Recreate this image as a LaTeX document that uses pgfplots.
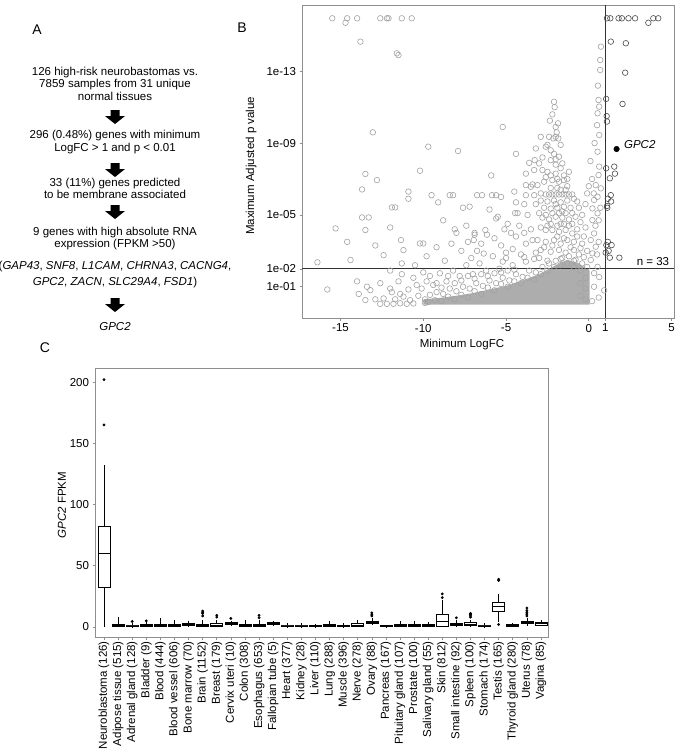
\documentclass[border=0pt]{standalone}
\usepackage{fontspec}
\setmainfont{Liberation Sans}
\setsansfont{Liberation Sans}
\usepackage{pgfplots}
\pgfplotsset{compat=1.18}
\usepgfplotslibrary{statistics}
\definecolor{ptgray}{HTML}{A2A2A2}
\definecolor{ptcore}{HTML}{ADADAD}
\definecolor{ptdark}{HTML}{4A4A4A}
\definecolor{ptframe}{HTML}{8E8E8E}
\newcommand{\fs}{\fontsize{11.5}{13}\selectfont}

\begin{document}
\begin{tikzpicture}
\path[use as bounding box] (0,0) rectangle (679pt,-750pt);

% ---------- panel A ----------
\node[font=\fontsize{14}{16}\selectfont] at (37pt,-30pt) {A};
\foreach \yy/\txt in {75/{126 high-risk neurobastomas vs.},
                      87.5/{7859 samples from 31 unique},
                      100/{normal tissues},
                      138/{296 (0.48\%) genes with minimum},
                      151/{LogFC > 1 and p < 0.01},
                      186/{33 (11\%) genes predicted},
                      198.5/{to be membrane associated},
                      235/{9 genes with high absolute RNA},
                      247.5/{expression (FPKM >50)},
                      269/{(\textit{GAP43}, \textit{SNF8}, \textit{L1CAM}, \textit{CHRNA3}, \textit{CACNG4},},
                      285/{\textit{GPC2}, \textit{ZACN}, \textit{SLC29A4}, \textit{FSD1})},
                      330/{\textit{GPC2}}}
  {\node[anchor=base,font=\fs,inner sep=0pt] at (115pt,-\yy pt) {\txt};}
\foreach \t in {110,163,205,298}
  {\fill[shift={(115pt,-\t pt)}] (-4.5pt,0) -- (4.5pt,0) -- (4.5pt,-6pt) -- (10pt,-6pt)
     -- (0,-14pt) -- (-10pt,-6pt) -- (-4.5pt,-6pt) -- cycle;}

% ---------- panel B ----------
\node[font=\fontsize{14}{16}\selectfont] at (242pt,-28pt) {B};
\begin{axis}[
  at={(302pt,-318pt)}, anchor=south west,
  scale only axis, width=372pt, height=313pt,
  xmin=-17.33, xmax=5.15, ymin=-0.74, ymax=16.69,
  xtick={-15,-10,-5,0,1,5}, xticklabels={-15,-10,-5,0,1,5},
  ytick={1,2,5,9,13}, yticklabels={1e-01,1e-02,1e-05,1e-09,1e-13},
  xtick pos=bottom, ytick pos=left, tick align=outside,
  major tick length=2.5pt,
  axis line style={draw=ptframe,line width=0.8pt},
  every tick/.style={ptframe,line width=0.6pt},
  ticklabel style={font=\fs},
  /pgf/number format/assume math mode=true,
  xlabel={Minimum LogFC}, ylabel={Maximum Adjusted p value},
  label style={font=\fs},
  xlabel style={at={(axis description cs:0.43,-0.086)},anchor=center},
  ylabel style={at={(axis description cs:-0.137,0.486)},anchor=center},
]
% dense core of the cloud
\addplot[fill=ptcore,draw=none] coordinates {
  (-10,0.0) (0.05,0.0) (0.05,1.9) (-0.6,2.3) (-1.3,2.5) (-2.0,2.2) (-3.0,1.7)
  (-4.0,1.35) (-5.0,1.05) (-6.0,0.85) (-7.0,0.65) (-8.0,0.5) (-9.0,0.38) (-10,0.3)} -- cycle;
% genes not passing the filters
\addplot[only marks,mark=o,mark size=2.8pt,mark options={ptgray,line width=0.6pt}] coordinates {
  (-15.5,15.95) (-14.6,15.95) (-14.0,15.95) (-14.7,15.7) (-12.6,15.95) (-12.2,15.95)
  (-12.1,15.95) (-11.3,15.95) (-10.7,15.95) (-13.8,14.65) (-11.6,14.0) (-11.5,13.9)
  (-13.05,9.6) (-9.7,8.8) (-7.9,8.56) (-5.2,9.9) (-13.5,7.28) (-12.8,6.94) (-10.2,7.46)
  (-13.7,6.42) (-10.9,6.3) (-10.9,5.9) (-5.9,7.2) (-13.7,4.86) (-13.3,4.86) (-15.3,4.25)
  (-13.5,4.16) (-12.0,4.3) (-11.9,5.42) (-11.7,5.42) (-14.6,3.5) (-16.4,2.36) (-14.4,2.49)
  (-15.8,0.85) (-13.5,0.26) (-13.2,0.81) (-12.4,2.76) (-11.35,3.6) (-11.3,2.3) (-11.3,1.7)
  (-11.2,3.04) (-10.2,3.41) (-10.0,3.41) (-9.5,6.1) (-9.1,5.7) (-8.8,4.7) (-8.4,6.1)
  (-8.2,6.1) (-7.6,5.4) (-8.1,4.2) (-8.0,4.0) (-9.2,3.2) (-8.7,2.45) (-6.9,4.0) (-6.9,3.9)
  (-6.75,6.1) (-6.45,6.1) (-5.85,6.1) (-5.6,6.1) (-7.2,5.46) (-6.0,5.3) (-5.6,4.8) (-5.5,4.9)
  (-7.3,3.5) (-6.95,3.6) (-6.25,4.16) (-6.15,3.9) (-6.75,3.0) (-6.35,2.85) (-5.3,6.0)
  (-4.5,6.3) (-4.4,5.7) (-4.4,8.4) (-3.9,5.6) (-3.8,6.1) (-4.3,5.1) (-4.45,5.1) (-5.1,4.2)
  (-4.7,4.0) (-4.4,3.8) (-3.8,3.4) (-3.9,4.0) (-3.4,6.7) (-3.3,6.1) (-3.5,4.2) (-3.4,3.6)
  (-7.7,3.0) (-7.1,2.6) (-6.5,3.4) (-5.8,2.7) (-5.3,3.3) (-5.0,2.9) (-4.6,3.1) (-4.1,2.8)
  (-5.7,3.7) (-4.9,4.5) (-4.2,4.4) (-3.7,5.0) (-5.2,2.4) (-8.3,3.4) (-7.4,4.4) (-9.8,2.7)
  (-10.5,2.2) (-12.9,3.3) (-14.0,1.3) (-12.0,1.9)
  (-2.06,11.0) (-2.35,10.25) (-1.86,10.1) (-1.94,9.6) (-2.0,9.35) (-2.9,9.35) (-2.4,9.35)
  (-2.14,9.26) (-1.84,9.26) (-1.7,8.9) (-3.2,8.7) (-2.6,8.8) (-2.3,8.6) (-2.1,8.4) (-1.8,8.24)
  (-3.27,8.05) (-3.0,7.87) (-2.3,8.05) (-1.6,7.87) (-3.3,7.5) (-2.8,7.5) (-2.5,7.4) (-2.0,7.3)
  (-1.7,7.6) (-2.7,6.85) (-2.2,6.94) (-1.8,6.85) (-1.5,6.94) (-3.8,6.66) (-3.5,6.57) (-3.1,6.66)
  (-2.6,6.14) (-2.4,6.14) (-2.2,6.14) (-2.0,6.14) (-1.8,6.14) (-1.6,6.14) (-1.4,6.14)
  (-1.2,6.14) (-1.0,6.14)
  (-2.9,5.8) (-2.5,5.75) (-2.1,5.8) (-1.7,5.7) (-1.3,5.8) (-0.7,5.75)
  (-2.7,5.4) (-2.3,5.35) (-1.9,5.4) (-1.5,5.45) (-1.1,5.4) (-0.6,5.4)
  (-2.8,4.85) (-2.4,4.75) (-2.0,4.9) (-1.6,4.85) (-1.2,4.75)
  (-2.6,4.16) (-2.2,4.16) (-1.8,4.06) (-1.4,4.16) (-1.0,3.97)
  (-3.1,3.6) (-2.6,3.5) (-2.1,3.6) (-1.7,3.4) (-1.3,3.6) (-0.9,3.5) (-0.4,3.4)
  (-2.9,3.05) (-2.3,2.95) (-1.8,3.05) (-1.4,2.9) (-0.9,3.05) (-0.5,3.15)
  (-3.9,2.65) (-3.3,2.55) (-2.5,2.45) (-1.7,2.55) (-0.9,2.45) (-0.3,2.65)
  (-1.5,7.2) (-1.3,6.6) (-1.9,6.5) (-1.4,5.1) (-2.2,5.1) (-1.7,4.5) (-2.5,4.4) (-1.2,4.4)
  (-2.0,7.8) (-1.2,7.4)
  (-3.2,2.9) (-2.7,3.2) (-2.2,3.3) (-1.9,3.8) (-1.5,3.7) (-1.1,3.2) (-0.7,3.8) (-0.6,2.8)
  (-2.9,4.3) (-2.3,4.5) (-1.9,4.4) (-1.5,4.5) (-1.0,4.5) (-0.7,4.2) (-3.0,5.1) (-2.6,5.0)
  (-1.8,5.1) (-1.0,5.1) (-0.8,4.9) (-3.2,5.6) (-2.0,5.6) (-1.6,5.2) (-0.9,5.9) (-1.4,6.4)
  (-2.3,6.5) (-1.7,6.4) (-2.6,7.1) (-2.3,7.2) (-1.9,7.0) (-1.3,7.0) (-2.8,8.2) (-2.0,8.1)
  (-2.5,8.9) (-2.0,9.9) (-2.2,10.6) (-2.1,11.3) (-3.6,7.9) (-3.8,7.3) (-2.9,6.2) (-0.5,4.6)
  (-0.3,3.8) (-0.2,5.6) (-0.1,6.2) (0.1,8.0) (0.35,9.0) (0.5,10.0) (0.55,12.2)
  (0.73,14.37) (0.69,13.63) (0.69,13.07) (0.59,11.4) (0.63,11.03) (0.53,10.66) (0.63,9.45)
  (0.53,8.52) (0.63,7.69) (0.59,7.22) (0.42,6.66) (0.73,6.48) (0.53,6.01) (0.32,5.83)
  (0.22,5.36) (0.53,5.09) (0.22,4.71) (0.32,3.97) (0.12,3.6) (0.42,3.23) (0.22,2.86)
  (0.12,2.49) (0.53,2.11) (-0.2,4.3) (-0.4,5.0) (0.0,6.6) (0.2,7.0) (-0.1,3.0) (0.4,4.4)
  (0.6,3.5) (0.5,2.8) (0.7,5.4) (0.3,6.2) (0.6,4.7)
  (0.32,1.76) (0.63,1.54) (0.32,1.0) (0.93,0.8) (0.6,0.4) (0.2,0.2)
  (-12.6,0.05) (-12.2,0.05) (-11.8,0.05) (-11.4,0.08) (-11.0,0.05) (-10.6,0.07) (-12.9,0.3)
  (-12.4,0.35) (-11.7,0.3) (-11.2,0.45) (-10.8,0.25) (-10.3,0.5) (-11.9,0.7) (-10.9,0.85)
  (-10.1,0.9) (-13.9,0.6) (-13.4,1.0) (-12.6,1.2) (-11.5,1.3) (-10.6,1.5) (-9.8,1.3)
  (-9.6,0.55) (-9.2,0.7) (-8.8,0.6) (-8.4,0.9) (-8.0,0.75) (-7.6,1.0) (-7.2,0.9) (-6.8,1.2)
  (-6.4,1.05) (-6.0,1.35) (-5.6,1.2) (-5.2,1.5) (-4.8,1.35) (-4.4,1.7) (-4.0,1.55) (-3.6,1.9)
  (-3.2,1.8) (-2.8,2.1) (-2.4,2.3) (-2.0,2.45) (-1.6,2.6) (-1.2,2.7) (-0.8,2.5) (-0.4,2.3)
  (-0.1,2.1) (-9.4,1.1) (-8.6,1.3) (-7.8,1.6) (-7.0,1.7) (-6.2,1.9) (-5.4,2.0) (-4.6,2.2)
  (-3.8,2.4) (-3.0,2.6) (-8.2,1.9) (-6.6,2.3) (-5.0,2.6) (-9.0,1.75) (-7.4,2.2)
  (-0.2,0.3) (-0.2,0.9) (-0.2,1.5) (-9.9,0.1) (-9.9,0.3)
  (-12.0,0.9) (-11.4,0.6) (-10.4,1.1) (-10.0,1.8) (-9.6,1.6) (-9.2,1.2) (-8.9,0.95)
  (-8.5,1.6) (-8.1,1.2) (-7.7,1.35) (-7.3,1.6) (-6.9,1.45) (-6.5,1.7) (-6.1,1.6) (-5.7,1.75)
  (-5.3,1.8) (-4.9,1.9) (-4.5,1.95) (-9.7,0.15) (-9.3,0.25) (-8.9,0.2) (-8.5,0.45)
  (-8.1,0.3) (-7.7,0.55) (-7.3,0.4) (-6.9,0.75) (-6.5,0.6) (-6.1,0.95) (-5.7,0.8)
  (-5.3,1.15) (-4.9,1.0) (-4.5,1.3) (-4.1,1.2) (-3.7,1.5) (-3.3,1.4) (-2.9,1.7) (-2.5,1.9)
  (-2.1,2.1) (-1.7,2.2) (-1.3,2.3) (-0.9,2.1) (-0.5,1.9) (-0.5,1.2) (-0.5,0.5)
};
% threshold lines
\addplot[black!80,line width=0.8pt] coordinates {(1,-0.74) (1,16.69)};
\addplot[black!80,line width=0.8pt] coordinates {(-17.33,2) (5.15,2)};
% the 33 candidate genes
\addplot[only marks,mark=o,mark size=2.8pt,mark options={ptdark,line width=0.6pt}] coordinates {
  (1.1,15.95) (1.3,15.95) (1.8,15.95) (2.0,15.95) (2.4,15.95) (2.8,15.95) (3.6,15.7)
  (3.9,15.95) (4.2,15.95) (1.33,14.65) (2.24,14.56) (2.2,12.92) (2.04,11.18) (1.05,11.46)
  (1.08,10.5) (1.1,10.2) (1.54,7.69) (1.58,7.3) (1.27,7.04) (1.33,6.1) (1.15,5.9)
  (1.35,5.75) (1.1,5.5) (1.12,5.4) (1.06,3.32) (1.38,3.32) (1.2,3.0) (1.27,2.62)
  (1.85,2.62) (1.05,7.6) (1.15,3.5) (1.02,2.9)};
\addplot[only marks,mark=*,mark size=2.8pt,mark options={black}] coordinates {(1.68,8.67)}
  node[anchor=west,font=\fs\itshape,xshift=4pt,yshift=4pt] {GPC2};
\node[font=\fs] at (axis cs:3.88,2.43) {n = 33};
\end{axis}

% ---------- panel C ----------
\node[font=\fontsize{14}{16}\selectfont] at (45pt,-348pt) {C};
\begin{axis}[
  at={(95pt,-637pt)}, anchor=south west,
  scale only axis, width=453pt, height=269pt,
  xmin=0.36, xmax=32.5, ymin=-8.2, ymax=211.5,
  xtick={1,...,32},
  xticklabels={Neuroblastoma (126),Adipose tissue (515),Adrenal gland (128),Bladder (9),
    Blood (444),Blood vessel (606),Bone marrow (70),Brain (1152),Breast (179),
    Cervix uteri (10),Colon (308),Esophagus (653),Fallopian tube (5),Heart (377),
    Kidney (28),Liver (110),Lung (288),Muscle (396),Nerve (278),Ovary (88),
    Pancreas (167),Pituitary gland (107),Prostate (100),Salivary gland (55),Skin (812),
    Small intestine (92),Spleen (100),Stomach (174),Testis (165),Thyroid gland (280),
    Uterus (78),Vagina (85)},
  xticklabel style={rotate=90,anchor=east,font=\fs,inner xsep=1.5pt},
  ytick={0,50,100,150,200},
  xtick pos=bottom, ytick pos=left, tick align=outside,
  major tick length=2.5pt,
  axis line style={draw=ptframe,line width=0.8pt},
  every tick/.style={ptframe,line width=0.6pt},
  yticklabel style={font=\fs},
  /pgf/number format/assume math mode=true,
  ylabel={\textit{GPC2} FPKM}, ylabel style={font=\fs,at={(axis description cs:-0.073,0.49)},anchor=center},
  boxplot/draw direction=y,
  boxplot/box extend=0.85, boxplot/whisker extend=0,
  bx/.style={black,solid,line width=0.6pt,fill=white,mark=*,mark size=1.1pt,mark options={black,fill=black}},
]
\addplot[bx,boxplot prepared={draw position=1,lower whisker=0,lower quartile=32.5,median=60,upper quartile=82,upper whisker=132}] coordinates {(0,165) (0,202)};
\addplot[bx,boxplot prepared={draw position=2,lower whisker=0,lower quartile=0.6,median=1.2,upper quartile=2.2,upper whisker=8}] coordinates {};
\addplot[bx,boxplot prepared={draw position=3,lower whisker=0,lower quartile=0.3,median=0.8,upper quartile=1.5,upper whisker=3.5}] coordinates {(0,4.5)};
\addplot[bx,boxplot prepared={draw position=4,lower whisker=0,lower quartile=0.6,median=1.2,upper quartile=2.2,upper whisker=4}] coordinates {(0,5)};
\addplot[bx,boxplot prepared={draw position=5,lower whisker=0,lower quartile=0.4,median=1.0,upper quartile=2.2,upper whisker=7}] coordinates {};
\addplot[bx,boxplot prepared={draw position=6,lower whisker=0,lower quartile=0.5,median=1.2,upper quartile=2.5,upper whisker=6}] coordinates {};
\addplot[bx,boxplot prepared={draw position=7,lower whisker=0.3,lower quartile=1.2,median=1.8,upper quartile=2.8,upper whisker=4.5}] coordinates {};
\addplot[bx,boxplot prepared={draw position=8,lower whisker=0,lower quartile=0.6,median=1.3,upper quartile=2.5,upper whisker=6}] coordinates {(0,9) (0,11) (0,12) (0,13)};
\addplot[bx,boxplot prepared={draw position=9,lower whisker=0,lower quartile=0.8,median=1.6,upper quartile=2.7,upper whisker=6}] coordinates {(0,8) (0,9.5)};
\addplot[bx,boxplot prepared={draw position=10,lower whisker=0.8,lower quartile=1.8,median=2.6,upper quartile=3.5,upper whisker=5}] coordinates {(0,7)};
\addplot[bx,boxplot prepared={draw position=11,lower whisker=0,lower quartile=0.6,median=1.3,upper quartile=2.4,upper whisker=5.5}] coordinates {};
\addplot[bx,boxplot prepared={draw position=12,lower whisker=0,lower quartile=0.6,median=1.3,upper quartile=2.4,upper whisker=5.5}] coordinates {(0,7.5) (0,9.5)};
\addplot[bx,boxplot prepared={draw position=13,lower whisker=0.8,lower quartile=1.8,median=2.8,upper quartile=3.8,upper whisker=4.8}] coordinates {};
\addplot[bx,boxplot prepared={draw position=14,lower whisker=0,lower quartile=0.3,median=0.8,upper quartile=1.6,upper whisker=3.5}] coordinates {};
\addplot[bx,boxplot prepared={draw position=15,lower whisker=0,lower quartile=0.3,median=0.8,upper quartile=1.5,upper whisker=3}] coordinates {};
\addplot[bx,boxplot prepared={draw position=16,lower whisker=0,lower quartile=0.2,median=0.5,upper quartile=1.0,upper whisker=2.5}] coordinates {};
\addplot[bx,boxplot prepared={draw position=17,lower whisker=0,lower quartile=0.6,median=1.3,upper quartile=2.4,upper whisker=5}] coordinates {};
\addplot[bx,boxplot prepared={draw position=18,lower whisker=0,lower quartile=0.2,median=0.6,upper quartile=1.2,upper whisker=3}] coordinates {};
\addplot[bx,boxplot prepared={draw position=19,lower whisker=0,lower quartile=0.6,median=1.3,upper quartile=2.6,upper whisker=6}] coordinates {};
\addplot[bx,boxplot prepared={draw position=20,lower whisker=1.2,lower quartile=2.6,median=3.6,upper quartile=4.8,upper whisker=7}] coordinates {(0,9) (0,10) (0,11.5)};
\addplot[bx,boxplot prepared={draw position=21,lower whisker=0,lower quartile=0.2,median=0.5,upper quartile=1.0,upper whisker=2}] coordinates {};
\addplot[bx,boxplot prepared={draw position=22,lower whisker=0,lower quartile=0.6,median=1.3,upper quartile=2.4,upper whisker=5}] coordinates {};
\addplot[bx,boxplot prepared={draw position=23,lower whisker=0,lower quartile=0.6,median=1.3,upper quartile=2.4,upper whisker=4.5}] coordinates {};
\addplot[bx,boxplot prepared={draw position=24,lower whisker=0,lower quartile=0.5,median=1.0,upper quartile=2.0,upper whisker=4}] coordinates {};
\addplot[bx,boxplot prepared={draw position=25,lower whisker=0,lower quartile=0.6,median=4.9,upper quartile=10,upper whisker=22}] coordinates {(0,24) (0,27)};
\addplot[bx,boxplot prepared={draw position=26,lower whisker=0,lower quartile=1.0,median=2.0,upper quartile=3.0,upper whisker=6}] coordinates {(0,7.5)};
\addplot[bx,boxplot prepared={draw position=27,lower whisker=0,lower quartile=1.0,median=2.0,upper quartile=3.5,upper whisker=6}] coordinates {(0,8) (0,9) (0,10) (0,11)};
\addplot[bx,boxplot prepared={draw position=28,lower whisker=0,lower quartile=0.3,median=0.8,upper quartile=1.5,upper whisker=3}] coordinates {};
\addplot[bx,boxplot prepared={draw position=29,lower whisker=4,lower quartile=12.5,median=16.6,upper quartile=20,upper whisker=27}] coordinates {(0,2) (0,38) (0,39)};
\addplot[bx,boxplot prepared={draw position=30,lower whisker=0,lower quartile=0.5,median=1.0,upper quartile=1.8,upper whisker=3.5}] coordinates {};
\addplot[bx,boxplot prepared={draw position=31,lower whisker=0.8,lower quartile=2.6,median=3.6,upper quartile=5,upper whisker=7.5}] coordinates {(0,9) (0,10.5) (0,12) (0,13.5) (0,15.5)};
\addplot[bx,boxplot prepared={draw position=32,lower whisker=0.5,lower quartile=1.6,median=2.6,upper quartile=3.6,upper whisker=5.5}] coordinates {};
\end{axis}
\end{tikzpicture}
\end{document}
